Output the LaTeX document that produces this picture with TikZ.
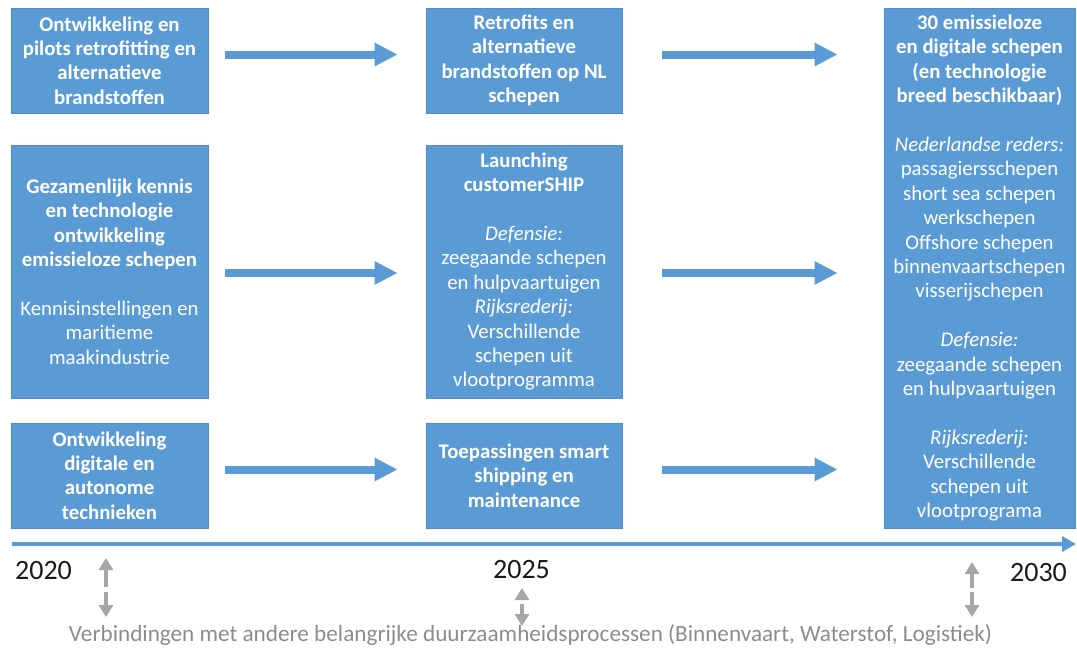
\documentclass[tikz,border=0pt]{standalone}
\usepackage{fontspec}
\setmainfont{Carlito}
\usetikzlibrary{arrows.meta}
\definecolor{boxblue}{HTML}{5B9BD5}
\definecolor{boxedge}{HTML}{4F8CC9}
\definecolor{greyarrow}{HTML}{A6A6A6}
\definecolor{greytext}{HTML}{8C8C8C}
\definecolor{yeartext}{HTML}{1A1A1A}
\newcommand{\mybf}[1]{\textbf{#1}}
\newcommand{\myit}[1]{\textit{#1}}
\begin{document}
\begin{tikzpicture}[x=1pt,y=-1pt,
  box/.style={fill=boxblue, draw=boxedge, line width=0.8pt, text=white, align=center,
    font=\fontsize{20.8}{24.4}\selectfont, inner sep=0pt, anchor=center},
  flow/.style={draw=boxblue, line width=8pt, -{Triangle[length=23pt,width=22pt]}},
  timeline/.style={draw=boxblue, line width=4pt, -{Triangle[length=14pt,width=15pt]}},
  garrow/.style={draw=greyarrow, line width=4pt, -{Triangle[length=12pt,width=14pt]}},
  year/.style={font=\fontsize{28}{30}\selectfont, text=yeartext, inner sep=0pt},
]
\useasboundingbox (0,0) rectangle (1077,648);

% left column
\node[box, minimum width=197pt, minimum height=105pt] (a1) at (109.5,60.5)
  {\mybf{Ontwikkeling en}\\\mybf{pilots retrofitting en}\\\mybf{alternatieve}\\\mybf{brandstoffen}};
\node[box, minimum width=197pt, minimum height=253pt] (a2) at (109.5,271.5)
  {\mybf{Gezamenlijk kennis}\\\mybf{en technologie}\\\mybf{ontwikkeling}\\\mybf{emissieloze schepen}\\[24.4pt]
   Kennisinstellingen en\\maritieme\\maakindustrie};
\node[box, minimum width=197pt, minimum height=105pt] (a3) at (109.5,475.5)
  {\mybf{Ontwikkeling}\\\mybf{digitale en}\\\mybf{autonome}\\\mybf{technieken}};

% middle column
\node[box, minimum width=196pt, minimum height=105pt] (b1) at (524,60.5)
  {\mybf{Retrofits en}\\\mybf{alternatieve}\\\mybf{brandstoffen op NL}\\\mybf{schepen}};
\node[box, minimum width=196pt, minimum height=253pt] (b2) at (524,271.5)
  {\mybf{Launching}\\\mybf{customerSHIP}\\[24.4pt]
   \myit{Defensie:}\\zeegaande schepen\\en hulpvaartuigen\\\myit{Rijksrederij:}\\Verschillende\\schepen uit\\vlootprogramma};
\node[box, minimum width=196pt, minimum height=105pt] (b3) at (524,475.5)
  {\mybf{Toepassingen smart}\\\mybf{shipping en}\\\mybf{maintenance}};

% right column
\node[box, minimum width=191pt, minimum height=520pt] (c) at (979.5,268)
  {\mybf{30 emissieloze}\\\mybf{en digitale schepen}\\\mybf{(en technologie}\\\mybf{breed beschikbaar)}\\[24.4pt]
   \myit{Nederlandse reders:}\\passagiersschepen\\short sea schepen\\werkschepen\\Offshore schepen\\binnenvaartschepen\\visserijschepen\\[24.4pt]
   \myit{Defensie:}\\zeegaande schepen\\en hulpvaartuigen\\[24.4pt]
   \myit{Rijksrederij:}\\Verschillende\\schepen uit\\vlootprograma};

% row arrows
\draw[flow, shorten <=17pt, shorten >=28pt] ([yshift=6pt]a1.east) -- ([yshift=6pt]b1.west);
\draw[flow, shorten <=17pt, shorten >=28pt] ([yshift=-1.5pt]a2.east) -- ([yshift=-1.5pt]b2.west);
\draw[flow, shorten <=17pt, shorten >=28pt] ([yshift=6pt]a3.east) -- ([yshift=6pt]b3.west);
\draw[flow, shorten <=40pt, shorten >=46pt] ([yshift=6pt]b1.east) -- ([yshift=6pt]b1.east -| c.west);
\draw[flow, shorten <=40pt, shorten >=46pt] ([yshift=-1.5pt]b2.east) -- ([yshift=-1.5pt]b2.east -| c.west);
\draw[flow, shorten <=40pt, shorten >=46pt] ([yshift=6pt]b3.east) -- ([yshift=6pt]b3.east -| c.west);

% timeline
\coordinate (tl0) at (12,544);
\coordinate (tl1) at (1076,544);
\draw[timeline] (tl0) -- (tl1);

\node[year, anchor=center] (y2020) at (43.5,571) {2020};
\node[year, anchor=center] (y2025) at (521.5,570) {2025};
\node[year, anchor=center] (y2030) at (1038.5,573) {2030};

% grey connection arrows
\coordinate (g1a) at (106,587); \coordinate (g1b) at (106,558);
\coordinate (g1c) at (106,592); \coordinate (g1d) at (106,617);
\draw[garrow] (g1a) -- (g1b);
\draw[garrow] (g1c) -- (g1d);
\coordinate (g2a) at (522,600); \coordinate (g2b) at (522,588);
\coordinate (g2c) at (522,604); \coordinate (g2d) at (522,626);
\draw[garrow] (g2a) -- (g2b);
\draw[garrow] (g2c) -- (g2d);
\coordinate (g3a) at (972,588); \coordinate (g3b) at (972,562);
\coordinate (g3c) at (972,592); \coordinate (g3d) at (972,617);
\draw[garrow] (g3a) -- (g3b);
\draw[garrow] (g3c) -- (g3d);

\node[font=\fontsize{23.2}{25}\selectfont, text=greytext, inner sep=0pt, anchor=base] (note) at (530.5,641)
  {Verbindingen met andere belangrijke duurzaamheidsprocessen (Binnenvaart, Waterstof, Logistiek)};
\end{tikzpicture}
\end{document}
